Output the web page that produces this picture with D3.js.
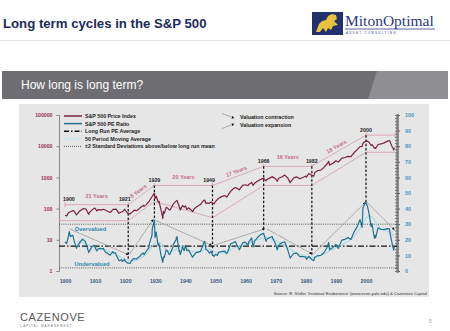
<!DOCTYPE html>
<html>
<head>
<meta charset="utf-8">
<script src="https://cdn.jsdelivr.net/npm/d3@7"></script>
<style>
body { margin: 0; background: #fff; }
svg { display: block; }
text { font-family: Arial, 'Liberation Sans', sans-serif; }
</style>
</head>
<body>
<svg id="chart" width="450" height="331"></svg>
<script>
// S&P 500 price index (left, log) as [year, value]
const priceSeries = [
	[1900.0, 61], [1900.6, 58], [1901.0, 71], [1901.5, 78], [1902.0, 81], [1902.7, 86], [1903.0, 84], [1903.8, 63],
	[1904.0, 66], [1904.9, 85], [1905.0, 84], [1906.0, 99], [1906.1, 101], [1907.0, 96], [1907.9, 65], [1908.0, 73],
	[1909.0, 91], [1909.8, 104], [1910.0, 101], [1910.6, 84], [1911.0, 93], [1912.0, 91], [1912.8, 95], [1913.0, 93],
	[1914.0, 84], [1914.6, 78], [1915.0, 75], [1915.9, 93], [1916.0, 95], [1917.0, 96], [1917.9, 70], [1918.0, 72],
	[1919.0, 79], [1919.8, 95], [1920.0, 88], [1920.9, 69], [1921.0, 71], [1921.6, 67], [1922.0, 73], [1923.0, 89],
	[1923.8, 86], [1924.0, 88], [1925.0, 106], [1926.0, 127], [1926.3, 118], [1927.0, 134], [1928.0, 175], [1929.0, 249],
	[1929.7, 313], [1929.9, 212], [1930.0, 217], [1930.3, 250], [1931.0, 160], [1931.2, 172], [1932.0, 83], [1932.5, 48],
	[1932.7, 80], [1933.0, 71], [1933.6, 110], [1934.0, 105], [1934.6, 91], [1935.0, 93], [1936.0, 141], [1937.0, 176],
	[1937.2, 182], [1938.0, 113], [1938.3, 90], [1939.0, 125], [1939.6, 112], [1940.0, 123], [1940.5, 94], [1941.0, 106],
	[1942.0, 89], [1942.4, 80], [1943.0, 101], [1944.0, 119], [1945.0, 135], [1946.0, 180], [1946.4, 188], [1946.8, 145],
	[1947.0, 152], [1948.0, 148], [1948.5, 163], [1949.0, 154], [1949.5, 141], [1950.0, 169], [1951.0, 212], [1952.0, 242],
	[1953.0, 262], [1953.7, 235], [1954.0, 255], [1955.0, 356], [1956.0, 442], [1956.6, 475], [1957.0, 454], [1957.9, 400],
	[1958.0, 411], [1959.0, 556], [1960.0, 580], [1960.8, 540], [1961.0, 597], [1962.0, 691], [1962.5, 555], [1963.0, 651],
	[1964.0, 765], [1965.0, 861], [1966.0, 933], [1966.8, 780], [1967.0, 845], [1968.0, 950], [1968.9, 1060], [1969.0, 1020],
	[1970.0, 903], [1970.5, 750], [1971.0, 935], [1972.0, 1033], [1973.0, 1184], [1974.0, 961], [1974.8, 680], [1975.0, 726],
	[1976.0, 969], [1977.0, 1038], [1978.0, 903], [1979.0, 997], [1980.0, 1109], [1980.2, 1020], [1981.0, 1330], [1982.0, 1173],
	[1982.6, 1090], [1983.0, 1443], [1984.0, 1664], [1985.0, 1716], [1986.0, 2082], [1987.0, 2645], [1987.6, 3250], [1987.9, 2450],
	[1988.0, 2505], [1989.0, 2854], [1990.0, 3400], [1990.8, 3100], [1991.0, 3255], [1992.0, 4161], [1993.0, 4352], [1994.0, 4730],
	[1995.0, 4653], [1996.0, 6144], [1997.0, 7662], [1998.0, 9634], [1998.7, 9800], [1999.0, 12488], [1999.9, 14600], [2000.5, 14500],
	[2001.0, 13356], [2001.7, 10500], [2002.0, 11302], [2002.8, 8600], [2003.0, 8958], [2003.2, 8500], [2004.0, 11325], [2005.0, 11814],
	[2006.0, 12787], [2007.0, 14242], [2007.8, 15300], [2008.0, 13788], [2008.8, 9000], [2009.0, 8656], [2009.2, 7570], [2009.4, 8900]
];

// S&P 500 PE ratio (right axis) as [year, value]
const peSeries = [
	[1900.0, 18.7], [1900.5, 17.5], [1901.0, 21.0], [1901.4, 25.2], [1901.8, 22.0], [1902.0, 22.5], [1902.6, 22.8], [1903.0, 19.6],
	[1903.8, 14.5], [1904.0, 15.5], [1904.8, 18.0], [1905.0, 18.6], [1905.9, 20.5], [1906.0, 20.0], [1906.7, 19.0], [1907.0, 17.4],
	[1907.9, 11.8], [1908.0, 12.6], [1908.8, 15.0], [1909.0, 15.9], [1909.8, 16.5], [1910.0, 15.0], [1910.6, 12.8], [1911.0, 14.1],
	[1911.6, 14.5], [1912.0, 14.2], [1912.8, 14.5], [1913.0, 13.3], [1913.6, 11.8], [1914.0, 11.6], [1914.6, 10.5], [1915.0, 10.2],
	[1915.9, 12.5], [1916.0, 11.8], [1916.8, 11.5], [1917.0, 10.3], [1917.9, 6.8], [1918.0, 6.6], [1918.8, 7.2], [1919.0, 6.0],
	[1919.8, 7.5], [1920.0, 6.2], [1920.9, 5.0], [1921.0, 5.1], [1921.6, 4.8], [1922.0, 6.3], [1922.8, 8.0], [1923.0, 8.0],
	[1923.8, 7.5], [1924.0, 8.2], [1924.9, 9.5], [1925.0, 10.0], [1925.9, 11.5], [1926.0, 11.5], [1926.3, 10.5], [1927.0, 12.8],
	[1927.9, 15.0], [1928.0, 17.2], [1928.9, 23.0], [1929.0, 27.1], [1929.7, 32.6], [1929.9, 21.5], [1930.0, 22.3], [1930.3, 25.0],
	[1930.9, 16.5], [1931.0, 16.7], [1931.2, 17.5], [1931.9, 10.0], [1932.0, 9.3], [1932.5, 5.6], [1932.7, 9.0], [1933.0, 8.7],
	[1933.6, 13.5], [1934.0, 13.0], [1934.6, 10.5], [1935.0, 11.3], [1935.9, 15.5], [1936.0, 17.1], [1936.9, 20.0], [1937.0, 21.6],
	[1937.2, 22.0], [1937.9, 12.5], [1938.0, 13.4], [1938.3, 10.5], [1938.9, 14.5], [1939.0, 15.4], [1939.6, 13.0], [1940.0, 16.4],
	[1940.5, 13.0], [1941.0, 13.5], [1941.9, 10.5], [1942.0, 10.1], [1942.4, 8.9], [1943.0, 10.5], [1943.6, 12.0], [1944.0, 11.9],
	[1945.0, 12.6], [1945.9, 16.5], [1946.0, 17.7], [1946.4, 19.0], [1946.8, 14.0], [1947.0, 13.7], [1947.5, 12.8], [1948.0, 11.4],
	[1948.5, 12.5], [1949.0, 10.5], [1949.5, 9.3], [1950.0, 10.7], [1950.6, 10.0], [1951.0, 11.9], [1952.0, 12.5], [1953.0, 12.7],
	[1953.7, 11.2], [1954.0, 12.0], [1955.0, 17.3], [1956.0, 18.3], [1956.6, 18.8], [1957.0, 17.0], [1957.9, 13.8], [1958.0, 13.7],
	[1959.0, 18.0], [1959.7, 18.5], [1960.0, 18.3], [1960.8, 16.5], [1961.0, 18.4], [1962.0, 21.2], [1962.5, 15.5], [1963.0, 19.3],
	[1964.0, 21.6], [1965.0, 23.3], [1966.0, 24.1], [1966.8, 19.0], [1967.0, 20.4], [1968.0, 21.5], [1968.9, 22.0], [1969.0, 21.2],
	[1970.0, 17.1], [1970.5, 13.5], [1971.0, 16.5], [1972.0, 18.1], [1973.0, 18.7], [1974.0, 13.5], [1974.8, 8.3], [1975.0, 8.9],
	[1976.0, 11.2], [1977.0, 11.4], [1978.0, 9.2], [1979.0, 9.3], [1980.0, 8.9], [1980.2, 7.4], [1981.0, 9.3], [1982.0, 7.4],
	[1982.6, 6.6], [1983.0, 8.8], [1984.0, 9.9], [1985.0, 10.0], [1986.0, 11.7], [1987.0, 14.9], [1987.6, 18.3], [1987.9, 13.5],
	[1988.0, 13.9], [1989.0, 15.1], [1990.0, 17.1], [1990.8, 14.5], [1991.0, 15.6], [1992.0, 19.8], [1993.0, 20.3], [1994.0, 21.4],
	[1995.0, 20.2], [1996.0, 24.8], [1997.0, 28.3], [1998.0, 32.9], [1998.7, 28.0], [1999.0, 40.6], [1999.9, 44.2], [2000.5, 41.5],
	[2001.0, 36.9], [2001.7, 28.5], [2002.0, 30.3], [2002.8, 21.0], [2003.0, 22.9], [2003.2, 21.2], [2004.0, 27.7], [2005.0, 26.6],
	[2006.0, 26.5], [2007.0, 27.2], [2007.8, 27.0], [2008.0, 24.0], [2008.8, 16.5], [2009.0, 15.2], [2009.2, 13.3], [2009.4, 15.5]
];

// 50 period moving average of PE
const peAverageSeries = [
	[1904, 19.0], [1906, 18.0], [1908, 16.5], [1910, 15.0], [1912, 14.5], [1914, 13.0], [1916, 11.5], [1918, 9.5],
	[1920, 7.5], [1922, 6.0], [1924, 7.0], [1926, 9.0], [1928, 12.0], [1930, 20.0], [1932, 18.0], [1934, 12.0],
	[1936, 12.5], [1938, 16.0], [1940, 15.0], [1942, 12.5], [1944, 11.5], [1946, 14.0], [1948, 14.5], [1950, 11.5],
	[1952, 11.5], [1954, 12.0], [1956, 15.0], [1958, 16.0], [1960, 17.0], [1962, 18.5], [1964, 20.0], [1966, 21.5],
	[1968, 21.5], [1970, 19.5], [1972, 17.5], [1974, 15.5], [1976, 12.0], [1978, 10.5], [1980, 9.5], [1982, 8.5],
	[1984, 9.0], [1986, 10.5], [1988, 13.0], [1990, 15.0], [1992, 16.5], [1994, 19.0], [1996, 21.5], [1998, 27.0],
	[2000, 35.0], [2002, 36.0], [2004, 28.0], [2006, 26.0], [2008, 25.5], [2009.3, 22.0]
];

const longRunPE = 16;
const stdBands = [30, 2];

const leftTicks = [1, 10, 100, 1000, 10000, 100000];
const rightTicks = [0, 10, 20, 30, 40, 50, 60, 70, 80, 90, 100];
const yearTicks = [1900, 1910, 1920, 1930, 1940, 1950, 1960, 1970, 1980, 1990, 2000];

// cycle turning points: year, upper channel, lower channel (price units), PE at the turn
const cycleYears = [1900, 1921, 1929.7, 1949, 1966, 1982, 2000];
const cycleLabels = ['1900', '1921', '1929', '1949', '1966', '1982', '2000'];
const cycleUpper = [134, 134, 550, 550, 2260, 2260, 22600];
const cycleLower = [41, 41, 170, 51, 550, 550, 6400];
const cyclePE = [null, 7, 33, 10, 27, 10, 44];
const cycleSpans = ['21 Years', '8 Years', '20 Years', '17 Years', '16 Years', '18 Years'];

// valuation arrows [fromYear, fromPE, toYear, toPE]
const valuationMoves = [
	[1901.5, 27, 1921, 10.5],
	[1921.3, 10.5, 1929.3, 33],
	[1930, 32.5, 1948.7, 16.5],
	[1949.5, 16.5, 1966.3, 27],
	[1967, 27, 1982, 11],
	[1982.5, 11, 1999.8, 44],
	[2000.3, 44, 2009.4, 26.5]
];

const svg = d3.select('#chart');

// page furniture
svg.append('rect').attr('width', 450).attr('height', 331).attr('fill', '#fff');
svg.append('text').attr('x', 3).attr('y', 28).text('Long term cycles in the S&P 500')
	.style('font-size', '13.2px').style('font-weight', 'bold').attr('fill', '#1d2b5e');
svg.append('line').attr('x1', 0).attr('x2', 450).attr('y1', 40.5).attr('y2', 40.5).attr('stroke', '#e2e2e2');

const logo = svg.append('g');
logo.append('rect').attr('x', 312).attr('y', 12).attr('width', 31).attr('height', 23).attr('fill', '#22306e');
logo.append('path').attr('d', 'M316,32 L319,24 L322,21 L326,20 L328,16 L332,14 L336,15 L337,19 L334,21 L338,25 L333,26 L331,30 L328,28 L326,32 L323,28 L320,32 Z')
	.attr('fill', '#e8c23a');
logo.append('text').attr('x', 345).attr('y', 26).text('MitonOptimal')
	.style('font-family', "'Liberation Serif', 'DejaVu Serif', serif").style('font-size', '15.5px').attr('fill', '#2b3a85');
logo.append('line').attr('x1', 345).attr('x2', 435).attr('y1', 29).attr('y2', 29).attr('stroke', '#2b3a85').attr('stroke-width', 0.8);
logo.append('text').attr('x', 346).attr('y', 33.5).text('ASSET CONSULTING')
	.style('font-size', '3px').style('letter-spacing', '1.3px').attr('fill', '#2b3a85');

svg.append('rect').attr('x', 2).attr('y', 71).attr('width', 446).attr('height', 28).attr('fill', '#6e6d72');
svg.append('path').attr('d', 'M377,71 L448,71 L448,99 L368,99 Z').attr('fill', '#8f8e93');
svg.append('text').attr('x', 21).attr('y', 89).text('How long is long term?')
	.style('font-size', '12px').attr('fill', '#fff');

svg.append('rect').attr('x', 19).attr('y', 104).attr('width', 410).attr('height', 193).attr('fill', '#e6e6e6');

svg.append('text').attr('x', 20).attr('y', 321).text('CAZENOVE')
	.style('font-size', '11px').style('letter-spacing', '0.6px').attr('fill', '#5a5a5a');
svg.append('text').attr('x', 20).attr('y', 326.5).text('CAPITAL MANAGEMENT')
	.style('font-size', '3px').style('letter-spacing', '1px').attr('fill', '#777');
svg.append('text').attr('x', 429).attr('y', 323).text('5').style('font-size', '5px').attr('fill', '#999');

// scales
const x = d3.scaleLinear().domain([1898, 2010.3]).range([59, 397]);
const yPrice = d3.scaleLog().domain([1, 100000]).range([271, 115]);
const yPE = d3.scaleLinear().domain([0, 100]).range([271, 115]);

const defs = svg.append('defs');
defs.append('marker').attr('id', 'tri').attr('viewBox', '0 0 6 6').attr('refX', 5).attr('refY', 3)
	.attr('markerWidth', 3.5).attr('markerHeight', 3.5).attr('orient', 'auto')
	.append('path').attr('d', 'M0,0 L6,3 L0,6 Z').attr('fill', '#111');

// axes
const leftAxis = svg.append('g').attr('transform', `translate(${x.range()[0]},0)`)
	.call(d3.axisLeft(yPrice).tickValues(leftTicks).tickFormat(d3.format('d')).tickSize(2.5).tickPadding(4));
leftAxis.select('.domain').attr('stroke', '#888');
leftAxis.selectAll('.tick line').attr('stroke', '#888');
leftAxis.selectAll('text').style('font-size', '5.2px').style('font-family', 'Arial').style('font-weight', 'bold').attr('fill', '#9a3555');

const rightX = x.range()[1];
const minorRight = svg.append('g').attr('transform', `translate(${rightX},0)`)
	.call(d3.axisRight(yPE).tickValues(d3.range(0, 101, 2)).tickFormat('').tickSize(2));
minorRight.selectAll('.tick line').attr('stroke', '#777').attr('x1', -2);
minorRight.select('.domain').attr('stroke', '#808080').attr('stroke-width', 2.5);
const rightAxis = svg.append('g').attr('transform', `translate(${rightX},0)`)
	.call(d3.axisRight(yPE).tickValues(rightTicks).tickSize(3).tickPadding(5));
rightAxis.select('.domain').remove();
rightAxis.selectAll('.tick line').attr('stroke', '#666');
rightAxis.selectAll('text').style('font-size', '5.5px').style('font-family', 'Arial').style('font-weight', 'bold').attr('fill', '#4a93bd');

const bottomAxis = svg.append('g').attr('transform', 'translate(0,275)')
	.call(d3.axisBottom(x).tickValues(yearTicks).tickFormat(d3.format('d')).tickSize(0).tickPadding(4));
bottomAxis.select('.domain').remove();
bottomAxis.selectAll('text').style('font-size', '5.3px').style('font-family', 'Arial').style('font-weight', 'bold').attr('fill', '#3c5a7c');

// reference lines on the PE scale
svg.append('line').attr('x1', x.range()[0]).attr('x2', rightX).attr('y1', yPE(longRunPE)).attr('y2', yPE(longRunPE))
	.attr('stroke', '#111').attr('stroke-width', 1.3).attr('stroke-dasharray', '6,2,1.5,2');
svg.selectAll('.band').data(stdBands).enter().append('line')
	.attr('x1', x.range()[0]).attr('x2', rightX).attr('y1', (d) => yPE(d)).attr('y2', (d) => yPE(d))
	.attr('stroke', '#333').attr('stroke-width', 0.8).attr('stroke-dasharray', '1,1.2');

// price channel (pink)
const pink = '#d9a3b6';
const chan = svg.append('g').attr('stroke', pink).attr('stroke-width', 0.9).attr('fill', 'none');
for (let i = 0; i < cycleYears.length - 1; i += 1) {
	chan.append('line').attr('x1', x(cycleYears[i])).attr('x2', x(cycleYears[i + 1]))
		.attr('y1', yPrice(cycleUpper[i])).attr('y2', yPrice(cycleUpper[i + 1]));
	chan.append('line').attr('x1', x(i === 0 ? 1898 : cycleYears[i])).attr('x2', x(cycleYears[i + 1]))
		.attr('y1', yPrice(cycleLower[i])).attr('y2', yPrice(cycleLower[i + 1]));
}
const last = cycleYears.length - 1;
chan.append('line').attr('x1', x(cycleYears[last])).attr('x2', rightX - 2)
	.attr('y1', yPrice(cycleUpper[last])).attr('y2', yPrice(cycleUpper[last]));
chan.append('line').attr('x1', x(cycleYears[last])).attr('x2', rightX - 2)
	.attr('y1', yPrice(cycleLower[last])).attr('y2', yPrice(cycleLower[last]));
// bracket end ticks on the flat spans
cycleYears.forEach((yr, i) => {
	chan.append('line').attr('x1', x(yr)).attr('x2', x(yr))
		.attr('y1', yPrice(cycleUpper[i]) - 2.5).attr('y2', yPrice(cycleUpper[i]) + 2.5).attr('stroke-width', 1);
});
chan.append('line').attr('x1', rightX - 2).attr('x2', rightX - 2)
	.attr('y1', yPrice(cycleUpper[last]) - 2.5).attr('y2', yPrice(cycleUpper[last]) + 2.5);

// span labels
const spanText = svg.append('g');
for (let i = 0; i < cycleSpans.length; i += 1) {
	const x1 = x(cycleYears[i]);
	const x2 = x(cycleYears[i + 1]);
	const y1 = yPrice(cycleUpper[i]);
	const y2 = yPrice(cycleUpper[i + 1]);
	const angle = Math.atan2(y2 - y1, x2 - x1) * 180 / Math.PI;
	const cx = (x1 + x2) / 2;
	const cy = (y1 + y2) / 2;
	const flat = Math.abs(angle) < 1;
	spanText.append('text')
		.attr('transform', `translate(${cx},${cy}) rotate(${angle}) translate(0,${flat ? -7 : -3})`)
		.attr('text-anchor', 'middle').text(cycleSpans[i])
		.style('font-size', '5.5px').style('font-weight', 'bold').attr('fill', '#c46c8a');
}

// dashed cycle markers from price channel to PE turn
cycleYears.forEach((yr, i) => {
	if (cyclePE[i] == null) return;
	svg.append('line').attr('x1', x(yr)).attr('x2', x(yr))
		.attr('y1', yPrice(cycleUpper[i])).attr('y2', yPE(cyclePE[i]))
		.attr('stroke', '#111').attr('stroke-width', 1.2).attr('stroke-dasharray', '2.5,1.8');
});

// year labels
cycleYears.forEach((yr, i) => {
	let anchor = 'middle';
	let dx = 0;
	if (i === 0) { anchor = 'start'; dx = -2; }
	if (cycleLabels[i] === '1921' || cycleLabels[i] === '1949') { anchor = 'end'; dx = 2.5; }
	svg.append('text').attr('x', x(yr) + dx).attr('y', yPrice(cycleUpper[i]) - 3.5)
		.attr('text-anchor', anchor).text(cycleLabels[i])
		.style('font-size', '5.3px').style('font-weight', 'bold').attr('fill', '#222');
});

// valuation arrows
svg.selectAll('.move').data(valuationMoves).enter().append('line')
	.attr('x1', (d) => x(d[0])).attr('y1', (d) => yPE(d[1]))
	.attr('x2', (d) => x(d[2])).attr('y2', (d) => yPE(d[3]))
	.attr('stroke', '#9a9a9a').attr('stroke-width', 0.8).attr('marker-end', 'url(#tri)');

// series
const peAvgLine = d3.line().x((d) => x(d[0])).y((d) => yPE(d[1])).curve(d3.curveBasis);
svg.append('path').datum(peAverageSeries).attr('d', peAvgLine)
	.attr('fill', 'none').attr('stroke', '#a5dbe8').attr('stroke-width', 1.1);

const peLine = d3.line().x((d) => x(d[0])).y((d) => yPE(d[1]));
svg.append('path').datum(peSeries).attr('d', peLine)
	.attr('fill', 'none').attr('stroke', '#1f7191').attr('stroke-width', 1.2).attr('stroke-linejoin', 'round');

const priceLine = d3.line().x((d) => x(d[0])).y((d) => yPrice(d[1]));
svg.append('path').datum(priceSeries).attr('d', priceLine)
	.attr('fill', 'none').attr('stroke', '#7d1f45').attr('stroke-width', 1.2).attr('stroke-linejoin', 'round');

// over / under valued
svg.append('text').attr('x', x(1908.5)).attr('y', yPE(25.5)).attr('text-anchor', 'middle').text('Overvalued')
	.style('font-size', '5.8px').style('font-weight', 'bold').attr('fill', '#2f86aa');
svg.append('text').attr('x', x(1909)).attr('y', yPE(3.4)).attr('text-anchor', 'middle').text('Undervalued')
	.style('font-size', '5.8px').style('font-weight', 'bold').attr('fill', '#2f86aa');

// legend
const legendItems = [
	{ label: 'S&P 500 Price Index', stroke: '#7d1f45', width: 1.5, dash: null },
	{ label: 'S&P 500 PE Ratio', stroke: '#1f7191', width: 1.5, dash: null },
	{ label: 'Long Run PE Average', stroke: '#111', width: 1.4, dash: '5,2,1.5,2' },
	{ label: '50 Period Moving Average', stroke: '#c9e9f0', width: 1.4, dash: null },
	{ label: '±2 Standard Deviations above/below long run mean', stroke: '#333', width: 0.8, dash: '1,1' }
];
const legend = svg.append('g');
legendItems.forEach((item, i) => {
	const ly = 116 + i * 7.6;
	legend.append('line').attr('x1', 64).attr('x2', 82).attr('y1', ly).attr('y2', ly)
		.attr('stroke', item.stroke).attr('stroke-width', item.width).attr('stroke-dasharray', item.dash);
	legend.append('text').attr('x', 85).attr('y', ly + 2).text(item.label)
		.style('font-size', '5.3px').style('font-weight', 'bold').attr('fill', '#222');
});

const moveLegend = svg.append('g');
moveLegend.append('line').attr('x1', 222).attr('y1', 113.5).attr('x2', 234).attr('y2', 118)
	.attr('stroke', '#9a9a9a').attr('stroke-width', 0.8).attr('marker-end', 'url(#tri)');
moveLegend.append('line').attr('x1', 222).attr('y1', 128.5).attr('x2', 234).attr('y2', 124)
	.attr('stroke', '#9a9a9a').attr('stroke-width', 0.8).attr('marker-end', 'url(#tri)');
moveLegend.append('text').attr('x', 240).attr('y', 119).text('Valuation contraction')
	.style('font-size', '5.3px').style('font-weight', 'bold').attr('fill', '#222');
moveLegend.append('text').attr('x', 240).attr('y', 127).text('Valuation expansion')
	.style('font-size', '5.3px').style('font-weight', 'bold').attr('fill', '#222');

svg.append('text').attr('x', 427).attr('y', 295).attr('text-anchor', 'end')
	.text("Source: R. Shiller 'Irrational Exuberance'  (www.econ.yale.edu) & Cazenove Capital")
	.style('font-size', '4.2px').attr('fill', '#333');
</script>
</body>
</html>
